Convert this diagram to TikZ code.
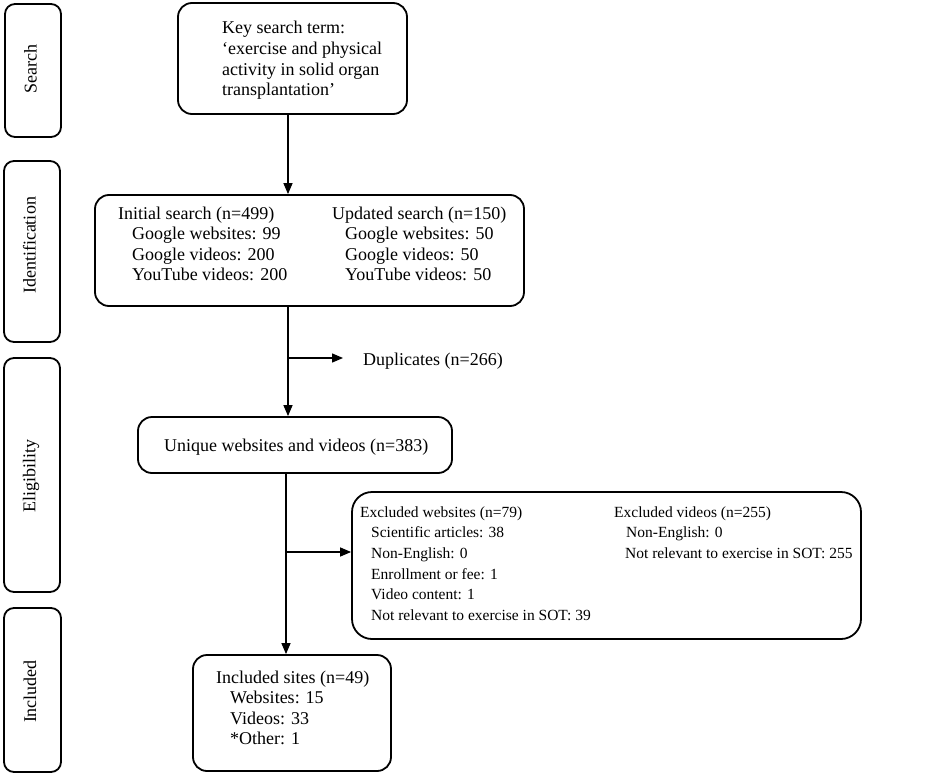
\documentclass[tikz,border=0pt]{standalone}
\usepackage{fontspec}
\setmainfont{Liberation Serif}
\usetikzlibrary{arrows.meta}
\tikzset{
  box/.style={draw, line width=1.8pt, rounded corners=14pt, rectangle, inner sep=0pt},
  exbox/.style={box, rounded corners=20pt},
  labbox/.style={box, rounded corners=10pt},
  labtxt/.style={font=\fontsize{18}{20.6}\selectfont, rotate=90, inner sep=0pt},
  txt/.style={font=\fontsize{18}{20.6}\selectfont, inner sep=0pt, anchor=base west},
  smalltxt/.style={font=\fontsize{15.5}{20.7}\selectfont, inner sep=0pt, anchor=base west},
  conn/.style={line width=1.3pt},
  arr/.style={conn, -{Triangle[length=11pt,width=9pt]}}
}
\newcommand{\ind}[1]{\hspace*{#1pt}}
\begin{document}
\begin{tikzpicture}[x=1pt,y=-1pt]
\useasboundingbox (0,0) rectangle (945,776);

% stage labels
\node[labbox, minimum width=56pt, minimum height=133pt] (lsearch) at (33,70.5) {};
\node[labtxt] (lsearchtxt) at (30.5,69) {Search};
\node[labbox, minimum width=56pt, minimum height=181pt] (lident) at (32,251.5) {};
\node[labtxt] (lidenttxt) at (29.5,245.5) {Identification};
\node[labbox, minimum width=56pt, minimum height=234pt] (lelig) at (32,475) {};
\node[labtxt] (leligtxt) at (31,476) {Eligibility};
\node[labbox, minimum width=57pt, minimum height=164pt] (lincl) at (32.5,690) {};
\node[labtxt] (lincltxt) at (30,691.5) {Included};

% main boxes
\node[box, minimum width=229pt, minimum height=111pt] (top) at (292.5,58.5) {};
\node[txt] (toptxt) at (222,34) {\begin{tabular}[t]{@{}l@{}}Key search term:\\‘exercise and physical\\activity in solid organ\\transplantation’\end{tabular}};

\node[box, minimum width=429pt, minimum height=111pt] (ident) at (309.5,250.5) {};
\node[txt] (identa) at (118,219) {\begin{tabular}[t]{@{}l@{}}Initial search (n=499)\\\ind{14}Google websites: 99\\\ind{14}Google videos: 200\\\ind{14}YouTube videos: 200\end{tabular}};
\node[txt] (identb) at (332,219) {\begin{tabular}[t]{@{}l@{}}Updated search (n=150)\\\ind{13}Google websites: 50\\\ind{13}Google videos: 50\\\ind{13}YouTube videos: 50\end{tabular}};

\node[txt] (dup) at (363,365) {Duplicates (n=266)};

\node[box, minimum width=314pt, minimum height=56pt] (uniq) at (295,445) {};
\node[txt] (uniqtxt) at (164,451.5) {Unique websites and videos (n=383)};

\node[exbox, minimum width=509pt, minimum height=147pt] (excl) at (606.5,565.5) {};
\node[smalltxt] (excla) at (360,517) {\begin{tabular}[t]{@{}l@{}}Excluded websites (n=79)\\\ind{11}Scientific articles: 38\\\ind{11}Non-English: 0\\\ind{11}Enrollment or fee: 1\\\ind{11}Video content: 1\\\ind{11}Not relevant to exercise in SOT: 39\end{tabular}};
\node[smalltxt] (exclb) at (614,517) {\begin{tabular}[t]{@{}l@{}}Excluded videos (n=255)\\\ind{12}Non-English: 0\\\ind{11}Not relevant to exercise in SOT: 255\end{tabular}};

\node[box, minimum width=198pt, minimum height=116pt] (incl) at (292,713) {};
\node[txt] (incltxt) at (216,683) {\begin{tabular}[t]{@{}l@{}}Included sites (n=49)\\\ind{14}Websites: 15\\\ind{14}Videos: 33\\\ind{14}*Other: 1\end{tabular}};

% connectors
\coordinate (axisA) at (288,0);
\coordinate (axisB) at (286,0);
\coordinate (dupjoin) at (288,358);
\coordinate (duptip) at (343,358);
\coordinate (exjoin) at (286,552);

\draw[arr] (axisA |- top.south) -- (axisA |- ident.north);
\draw[arr] (axisA |- ident.south) -- (axisA |- uniq.north);
\draw[arr] (dupjoin) -- (duptip);
\draw[arr] (axisB |- uniq.south) -- (axisB |- incl.north);
\draw[arr] (exjoin) -- (exjoin -| excl.west);
\end{tikzpicture}
\end{document}
